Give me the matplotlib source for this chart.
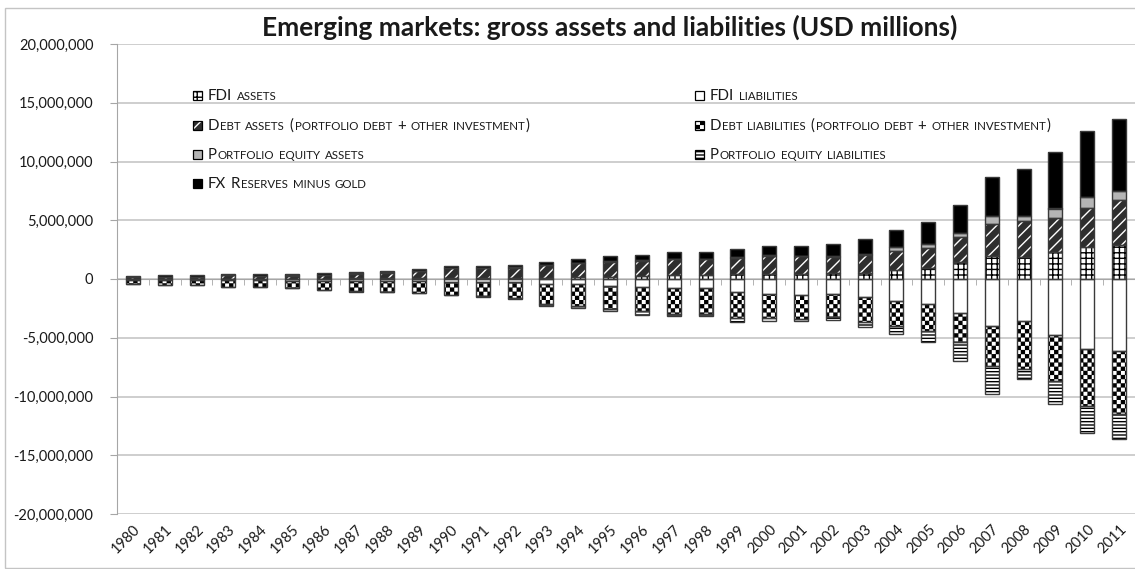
import numpy as np
import matplotlib
matplotlib.use("Agg")
import matplotlib.pyplot as plt
import matplotlib.hatch as mhatch
from matplotlib.path import Path
from matplotlib.patches import Rectangle
from matplotlib.offsetbox import HPacker, TextArea, DrawingArea, AnnotationBbox
from matplotlib.ticker import FuncFormatter, MultipleLocator, FixedLocator

years = list(range(1980, 2012))

# values, USD trillions (axis itself is USD millions)
fdi_assets = [0.02, 0.02, 0.02, 0.03, 0.03, 0.03, 0.04, 0.05, 0.05, 0.06, 0.07, 0.08,
              0.10, 0.12, 0.15, 0.20, 0.28, 0.33, 0.33, 0.45, 0.43, 0.45, 0.47, 0.55,
              0.80, 0.97, 1.42, 1.99, 1.90, 2.33, 2.76, 2.93]
debt_assets = [0.12, 0.18, 0.18, 0.29, 0.24, 0.26, 0.30, 0.41, 0.50, 0.61, 0.83, 0.82,
               0.87, 1.07, 1.18, 1.26, 1.27, 1.33, 1.33, 1.37, 1.57, 1.48, 1.44, 1.49,
               1.59, 1.70, 2.19, 2.67, 3.04, 2.87, 3.32, 3.77]
pe_assets = [0.01, 0.01, 0.01, 0.01, 0.01, 0.01, 0.01, 0.01, 0.01, 0.01, 0.02, 0.02,
             0.02, 0.03, 0.03, 0.04, 0.04, 0.05, 0.05, 0.06, 0.07, 0.06, 0.07, 0.12,
             0.31, 0.31, 0.34, 0.68, 0.40, 0.80, 0.94, 0.80]
fx_reserves = [0.08, 0.10, 0.10, 0.12, 0.12, 0.12, 0.13, 0.15, 0.15, 0.17, 0.16, 0.18,
               0.20, 0.23, 0.34, 0.43, 0.48, 0.62, 0.62, 0.68, 0.74, 0.82, 0.97, 1.25,
               1.50, 1.91, 2.35, 3.32, 4.04, 4.80, 5.54, 6.10]

fdi_liab = [0.08, 0.09, 0.10, 0.11, 0.12, 0.13, 0.14, 0.16, 0.18, 0.20, 0.22, 0.26,
            0.28, 0.40, 0.42, 0.57, 0.71, 0.80, 0.80, 1.14, 1.28, 1.36, 1.28, 1.56,
            1.85, 2.13, 2.90, 4.03, 3.60, 4.77, 5.97, 6.17]
debt_liab = [0.33, 0.38, 0.43, 0.53, 0.52, 0.60, 0.78, 0.90, 0.93, 0.99, 1.11, 1.20,
             1.36, 1.73, 1.91, 1.99, 1.99, 2.18, 2.18, 2.21, 2.07, 2.05, 1.99, 2.13,
             2.13, 2.27, 2.50, 3.36, 4.07, 3.90, 4.83, 5.33]
pe_liab = [0.01, 0.01, 0.01, 0.01, 0.01, 0.01, 0.02, 0.02, 0.03, 0.03, 0.03, 0.04,
           0.06, 0.14, 0.11, 0.20, 0.37, 0.17, 0.17, 0.29, 0.20, 0.14, 0.20, 0.37,
           0.71, 1.00, 1.60, 2.41, 0.83, 1.99, 2.27, 2.14]

title = "Emerging markets: gross assets and liabilities (USD millions)"
y_ticks = list(range(-20000000, 20000001, 5000000))

FONT = "Lato"
TXT = "#1a1a1a"
OUTLINE = "#3a3a3a"
S = 1e6  # trillions -> millions


# checkerboard hatch, hooked onto the 'o' character (small circles are not used here)
class CheckerHatch(mhatch.HatchPatternBase):
    def __init__(self, hatch, density):
        self.n = 2 * ((hatch.count('o') * density) // 2)
        self.num_vertices = (self.n * self.n // 2) * 5

    def set_vertices_and_codes(self, vertices, codes):
        s = 1.0 / self.n
        d = 0.006  # shrink a bit, the hatch stroke adds it back
        k = 0
        for i in range(self.n):
            for j in range(self.n):
                if (i + j) % 2:
                    continue
                x0, y0 = i * s + d, j * s + d
                x1, y1 = (i + 1) * s - d, (j + 1) * s - d
                vertices[k:k + 5] = [(x0, y0), (x1, y0), (x1, y1), (x0, y1), (x0, y0)]
                codes[k:k + 5] = [Path.MOVETO, Path.LINETO, Path.LINETO,
                                  Path.LINETO, Path.CLOSEPOLY]
                k += 5


mhatch._hatch_types[mhatch._hatch_types.index(mhatch.SmallCircles)] = CheckerHatch

styles = {
    'fdi_a': dict(facecolor='white', edgecolor='black', hatch='+++'),
    'debt_a': dict(facecolor='#2e2e2e', edgecolor='white', hatch='///'),
    'pe_a': dict(facecolor='#b5b5b5', edgecolor='#b5b5b5', hatch=None),
    'fx': dict(facecolor='black', edgecolor='black', hatch=None),
    'fdi_l': dict(facecolor='white', edgecolor='white', hatch=None),
    'debt_l': dict(facecolor='white', edgecolor='black', hatch='oooo'),
    'pe_l': dict(facecolor='white', edgecolor='black', hatch='-----'),
}

fig = plt.figure(figsize=(11.35, 5.69), dpi=100)
ax = fig.add_axes([117 / 1135, 1 - 514 / 569, 1 - 117 / 1135, (514 - 44) / 569])

x = np.arange(len(years))
w = 0.44

# assets stacked upwards
bottom = np.zeros(len(years))
for vals, key in [(fdi_assets, 'fdi_a'), (debt_assets, 'debt_a'),
                  (pe_assets, 'pe_a'), (fx_reserves, 'fx')]:
    h = np.array(vals) * S
    ax.bar(x, h, w, bottom=bottom, linewidth=0, zorder=2, **styles[key])
    ax.bar(x, h, w, bottom=bottom, fill=False, edgecolor=OUTLINE, linewidth=1.0, zorder=3)
    bottom += h

# liabilities stacked downwards
bottom = np.zeros(len(years))
for vals, key in [(fdi_liab, 'fdi_l'), (debt_liab, 'debt_l'), (pe_liab, 'pe_l')]:
    h = -np.array(vals) * S
    ax.bar(x, h, w, bottom=bottom, linewidth=0, zorder=2, **styles[key])
    ax.bar(x, h, w, bottom=bottom, fill=False, edgecolor=OUTLINE, linewidth=1.0, zorder=3)
    bottom += h

ax.set_xlim(-0.5, len(years) - 0.5)
ax.set_ylim(y_ticks[0], y_ticks[-1])
ax.yaxis.set_major_locator(FixedLocator(y_ticks))
ax.yaxis.set_major_formatter(FuncFormatter(lambda v, p: f"{int(round(v)):,}"))
ax.yaxis.grid(True, color='#c6c6c6', linewidth=1.2)
ax.set_axisbelow(True)

# zero line with tick marks between categories, year labels at the bottom
ax.spines['top'].set_position(('data', 0))
ax.spines['top'].set_color('#a6a6a6')
ax.spines['top'].set_zorder(1.5)
ax.spines['bottom'].set_visible(False)
ax.spines['right'].set_visible(False)
ax.spines['left'].set_color('#a6a6a6')
ax.set_xticks(x)
ax.set_xticklabels([str(y) for y in years], rotation=45, ha='right',
                   rotation_mode='anchor', fontsize=10.5, family=FONT, color=TXT)
ax.xaxis.set_minor_locator(MultipleLocator(1, offset=0.5))
ax.tick_params(axis='x', which='major', bottom=True, top=False, length=0, pad=6)
ax.tick_params(axis='x', which='minor', bottom=False, top=True, direction='in',
               length=4, color='#a6a6a6')
ax.tick_params(axis='y', direction='out', length=5, pad=12, color='#a6a6a6',
               labelsize=10.5, labelcolor=TXT)
for lab in ax.get_yticklabels():
    lab.set_family(FONT)

fig.text(610 / 1135, 1 - 27 / 569, title, ha='center', va='center',
         fontsize=19, fontweight='bold', family=FONT, color=TXT)


# legend drawn by hand so the labels can be in small caps
def small_caps(label, big=10.8, small=8.3):
    words = []
    for word in label.split(' '):
        runs = []
        for ch in word:
            is_small = ch.islower()
            if runs and runs[-1][0] == is_small:
                runs[-1][1] += ch
            else:
                runs.append([is_small, ch])
        parts = [TextArea(t.upper() if sm else t,
                          textprops=dict(size=small if sm else big, family=FONT, color=TXT))
                 for sm, t in runs]
        words.append(HPacker(children=parts, sep=0.7, pad=0, align='baseline'))
    return HPacker(children=words, sep=3.4, pad=0, align='baseline')


def legend_entry(label, key, px, py):
    box = DrawingArea(6.5, 6.5, 0, 0)
    st = styles[key]
    box.add_artist(Rectangle((0, 0), 6.5, 6.5, facecolor=st['facecolor'],
                             edgecolor=st['edgecolor'], hatch=st['hatch'], linewidth=0))
    box.add_artist(Rectangle((0, 0), 6.5, 6.5, fill=False, edgecolor='black', linewidth=0.9))
    pack = HPacker(children=[box, small_caps(label)], sep=4, pad=0, align='baseline')
    ab = AnnotationBbox(pack, (px / 1135, 1 - py / 569), xycoords='figure fraction',
                        box_alignment=(0, 0.5), frameon=False, pad=0, annotation_clip=False)
    fig.add_artist(ab)


legend_left = [("FDI assets", 'fdi_a'),
               ("Debt assets (portfolio debt + other investment)", 'debt_a'),
               ("Portfolio equity assets", 'pe_a'),
               ("FX Reserves minus gold", 'fx')]
legend_right = [("FDI liabilities", 'fdi_l'),
                ("Debt liabilities (portfolio debt + other investment)", 'debt_l'),
                ("Portfolio equity liabilities", 'pe_l')]
rows_y = [96, 126, 155, 184]
for (lab, key), py in zip(legend_left, rows_y):
    legend_entry(lab, key, 193, py)
for (lab, key), py in zip(legend_right, rows_y):
    legend_entry(lab, key, 695, py)

# thin frame round the chart area
fig.patches.append(Rectangle((5 / 1135, 1 / 569), 1.2, 1 - 9 / 569, transform=fig.transFigure,
                             fill=False, edgecolor='#c4c4c4', linewidth=1.0))

fig.savefig("out.png", dpi=100)
